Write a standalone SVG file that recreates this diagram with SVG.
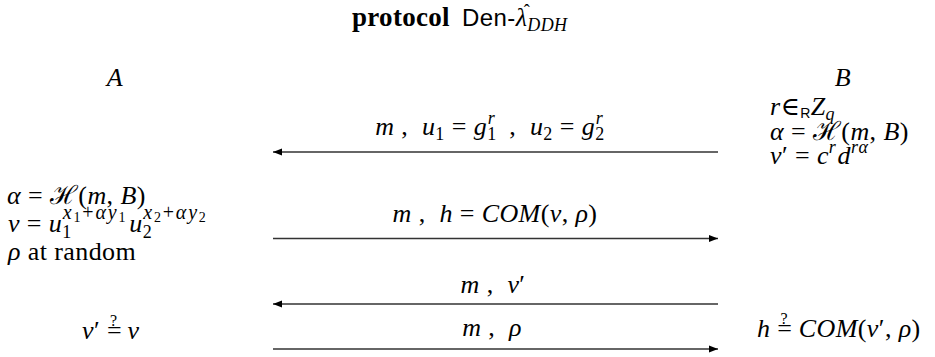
<svg xmlns="http://www.w3.org/2000/svg" width="935" height="357" viewBox="0 0 935 357">
<style>
.t{font-family:"Liberation Serif","DejaVu Serif",serif;font-size:26px;letter-spacing:0.4px;fill:#000}
.i{font-style:italic}
.s{font-size:18px;letter-spacing:0.6px}
.sp{font-size:20px;letter-spacing:1.8px}
.ss{font-size:14px}
.q{font-size:16px}
.sf{font-family:"Liberation Sans","DejaVu Sans",sans-serif}
.c{stroke:#333;stroke-width:1.6;fill:none}
</style>
<defs>
<marker id="ah" markerUnits="userSpaceOnUse" markerWidth="10" markerHeight="8" refX="9" refY="4" orient="auto">
<path d="M0,0.5 L9,4 L0,7.5 Z" fill="#000"/>
</marker>
</defs>
<rect width="935" height="357" fill="#fff"/>

<g id="title">
<text class="t" x="352" y="26" style="font-weight:bold;font-size:27px" textLength="98">protocol</text>
<text class="t sf" x="462" y="26" style="font-size:24px">Den-<tspan class="t i" style="font-family:'Liberation Serif',serif;font-size:26px">λ</tspan><tspan class="t i" dy="5" style="font-family:'Liberation Serif',serif;font-size:18px">DDH</tspan></text>
<text class="t" x="527" y="17" style="font-size:18px" text-anchor="middle">ˆ</text>
</g>

<g id="partyA">
<text class="t i" x="115" y="86" text-anchor="middle">A</text>
</g>
<g id="partyB">
<text class="t i" x="843" y="86" text-anchor="middle">B</text>
</g>

<g id="B-steps">
<text class="t" x="770" y="115"><tspan class="i">r</tspan>∈<tspan class="sf ss" dy="3">R</tspan><tspan class="i" dy="-3">Z</tspan><tspan class="i s" dy="5">q</tspan></text>
<text class="t" x="770" y="140"><tspan class="i">α</tspan> = ℋ(<tspan class="i">m</tspan>, <tspan class="i">B</tspan>)</text>
<text class="t" x="770" y="164"><tspan class="i">v</tspan>′ = <tspan class="i">c</tspan><tspan class="i s" dy="-11">r</tspan><tspan class="i" dy="11" dx="1">d</tspan><tspan class="i s" dy="-11">rα</tspan></text>
</g>

<g id="A-steps">
<text class="t" x="7" y="204"><tspan class="i">α</tspan> = ℋ(<tspan class="i">m</tspan>, <tspan class="i">B</tspan>)</text>
<text class="t" x="8" y="232"><tspan class="i">v</tspan> = <tspan class="i">u</tspan><tspan class="s" dy="6">1</tspan><tspan class="sp" dx="-9" dy="-19"><tspan class="i">x</tspan><tspan class="ss" dy="3">1</tspan><tspan dy="-3">+</tspan><tspan class="i">αy</tspan><tspan class="ss" dy="3">1</tspan></tspan><tspan class="i" dy="10" dx="2">u</tspan><tspan class="s" dy="6">2</tspan><tspan class="sp" dx="-9" dy="-19"><tspan class="i">x</tspan><tspan class="ss" dy="3">2</tspan><tspan dy="-3">+</tspan><tspan class="i">αy</tspan><tspan class="ss" dy="3">2</tspan></tspan></text>
<text class="t" x="8" y="260"><tspan class="i">ρ</tspan> at random</text>
</g>

<g id="A-check">
<text class="t" x="82" y="339"><tspan class="i">v</tspan>′ =<tspan class="q" dx="-12" dy="-13">?</tspan><tspan dx="3" dy="13"> </tspan><tspan class="i">v</tspan></text>
</g>

<g id="B-check">
<text class="t" x="757" y="337"><tspan class="i">h</tspan> =<tspan class="q" dx="-12" dy="-13">?</tspan><tspan dx="4" dy="13"> </tspan><tspan class="i">COM</tspan>(<tspan class="i">v</tspan>′, <tspan class="i">ρ</tspan>)</text>
</g>

<g id="connectors">
<line class="c" x1="718" y1="152" x2="273" y2="152" marker-end="url(#ah)"/>
<line class="c" x1="273" y1="238.5" x2="718" y2="238.5" marker-end="url(#ah)"/>
<line class="c" x1="718" y1="304" x2="273" y2="304" marker-end="url(#ah)"/>
<line class="c" x1="273" y1="349" x2="718" y2="349" marker-end="url(#ah)"/>
</g>

<g id="labels">
<text class="t" x="490" y="135" text-anchor="middle"><tspan class="i">m</tspan>&#160;,&#160; <tspan class="i">u</tspan><tspan class="s" dy="5">1</tspan><tspan dy="-5"> = </tspan><tspan class="i">g</tspan><tspan class="s" dy="5">1</tspan><tspan class="s i" dx="-9" dy="-16">r</tspan><tspan dy="11">&#160;&#160;,&#160; </tspan><tspan class="i">u</tspan><tspan class="s" dy="5">2</tspan><tspan dy="-5"> = </tspan><tspan class="i">g</tspan><tspan class="s" dy="5">2</tspan><tspan class="s i" dx="-9" dy="-16">r</tspan></text>
<text class="t" x="495" y="222" text-anchor="middle"><tspan class="i">m</tspan>&#160;,&#160; <tspan class="i">h</tspan> = <tspan class="i">COM</tspan>(<tspan class="i">v</tspan>, <tspan class="i">ρ</tspan>)</text>
<text class="t" x="493" y="293" text-anchor="middle"><tspan class="i">m</tspan>&#160;,&#160; <tspan class="i">v</tspan>′</text>
<text class="t" x="492" y="336" text-anchor="middle"><tspan class="i">m</tspan>&#160;,&#160; <tspan class="i">ρ</tspan></text>
</g>
</svg>
